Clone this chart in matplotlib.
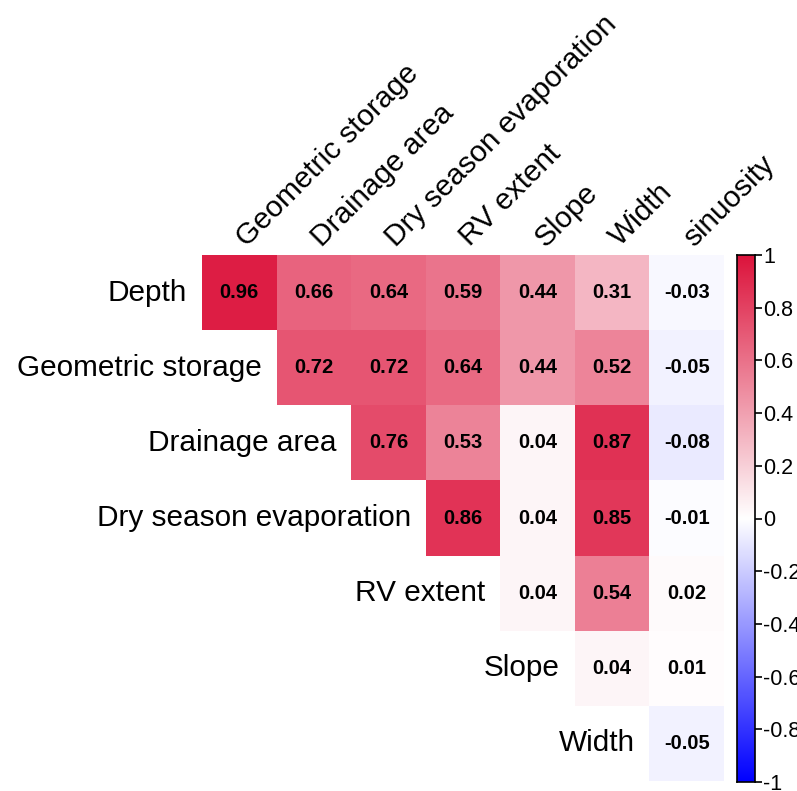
import numpy as np
import matplotlib.pyplot as plt
from matplotlib.colors import LinearSegmentedColormap

plt.rcParams["font.family"] = ["Liberation Sans", "DejaVu Sans"]

row_names = ["Depth", "Geometric storage", "Drainage area",
             "Dry season evaporation", "RV extent", "Slope", "Width"]
col_names = ["Geometric storage", "Drainage area", "Dry season evaporation",
             "RV extent", "Slope", "Width", "sinuosity"]

# upper triangle of the correlation matrix, one list per row
r_depth = [0.96, 0.66, 0.64, 0.59, 0.44, 0.31, -0.03]
r_geo = [0.72, 0.72, 0.64, 0.44, 0.52, -0.05]
r_drain = [0.76, 0.53, 0.04, 0.87, -0.08]
r_dry = [0.86, 0.04, 0.85, -0.01]
r_rv = [0.04, 0.54, 0.02]
r_slope = [0.04, 0.01]
r_width = [-0.05]
rows = [r_depth, r_geo, r_drain, r_dry, r_rv, r_slope, r_width]

cbar_ticks = [-1, -0.8, -0.6, -0.4, -0.2, 0, 0.2, 0.4, 0.6, 0.8, 1]
cbar_labels = ["-1", "-0.8", "-0.6", "-0.4", "-0.2", "0",
               "0.2", "0.4", "0.6", "0.8", "1"]

n = len(col_names)
mat = np.full((n, n), np.nan)
for i, vals in enumerate(rows):
    mat[i, i:] = vals
masked = np.ma.masked_invalid(mat)

cmap = LinearSegmentedColormap.from_list("bwc", ["#0000FF", "#FFFFFF", "#DC143C"])

fig = plt.figure(figsize=(7.97, 7.91), dpi=100)
ax = fig.add_axes([202 / 797, 10 / 791, 522 / 797, 526 / 791])
ax.pcolormesh(np.arange(n + 1), np.arange(n + 1), masked, cmap=cmap,
              vmin=-1, vmax=1, edgecolors="none")
ax.set_xlim(0, n)
ax.set_ylim(n, 0)
ax.axis("off")

for i in range(n):
    for j in range(i, n):
        ax.text(j + 0.5, i + 0.5, "%.2f" % mat[i, j], ha="center",
                va="center", fontsize=14.5, fontweight="bold", color="black")
    ax.text(i - 0.2, i + 0.5, row_names[i], ha="right", va="center",
            fontsize=21.4, clip_on=False)
    ax.text(i + 0.6, -0.1, col_names[i], ha="left", va="baseline",
            rotation=45, rotation_mode="anchor", fontsize=21.4, clip_on=False)

# colour bar
cax = fig.add_axes([737 / 797, 9 / 791, 18 / 797, 527 / 791])
grad = np.linspace(-1, 1, 256).reshape(-1, 1)
cax.imshow(grad, cmap=cmap, aspect="auto", origin="lower",
           extent=[0, 1, -1, 1], vmin=-1, vmax=1)
cax.set_xticks([])
cax.yaxis.tick_right()
cax.set_yticks(cbar_ticks)
cax.set_yticklabels(cbar_labels, fontsize=15.5)
cax.tick_params(axis="y", length=5, width=1.2, pad=1)
for s in cax.spines.values():
    s.set_linewidth(1.2)

fig.savefig("out.png", dpi=100)
